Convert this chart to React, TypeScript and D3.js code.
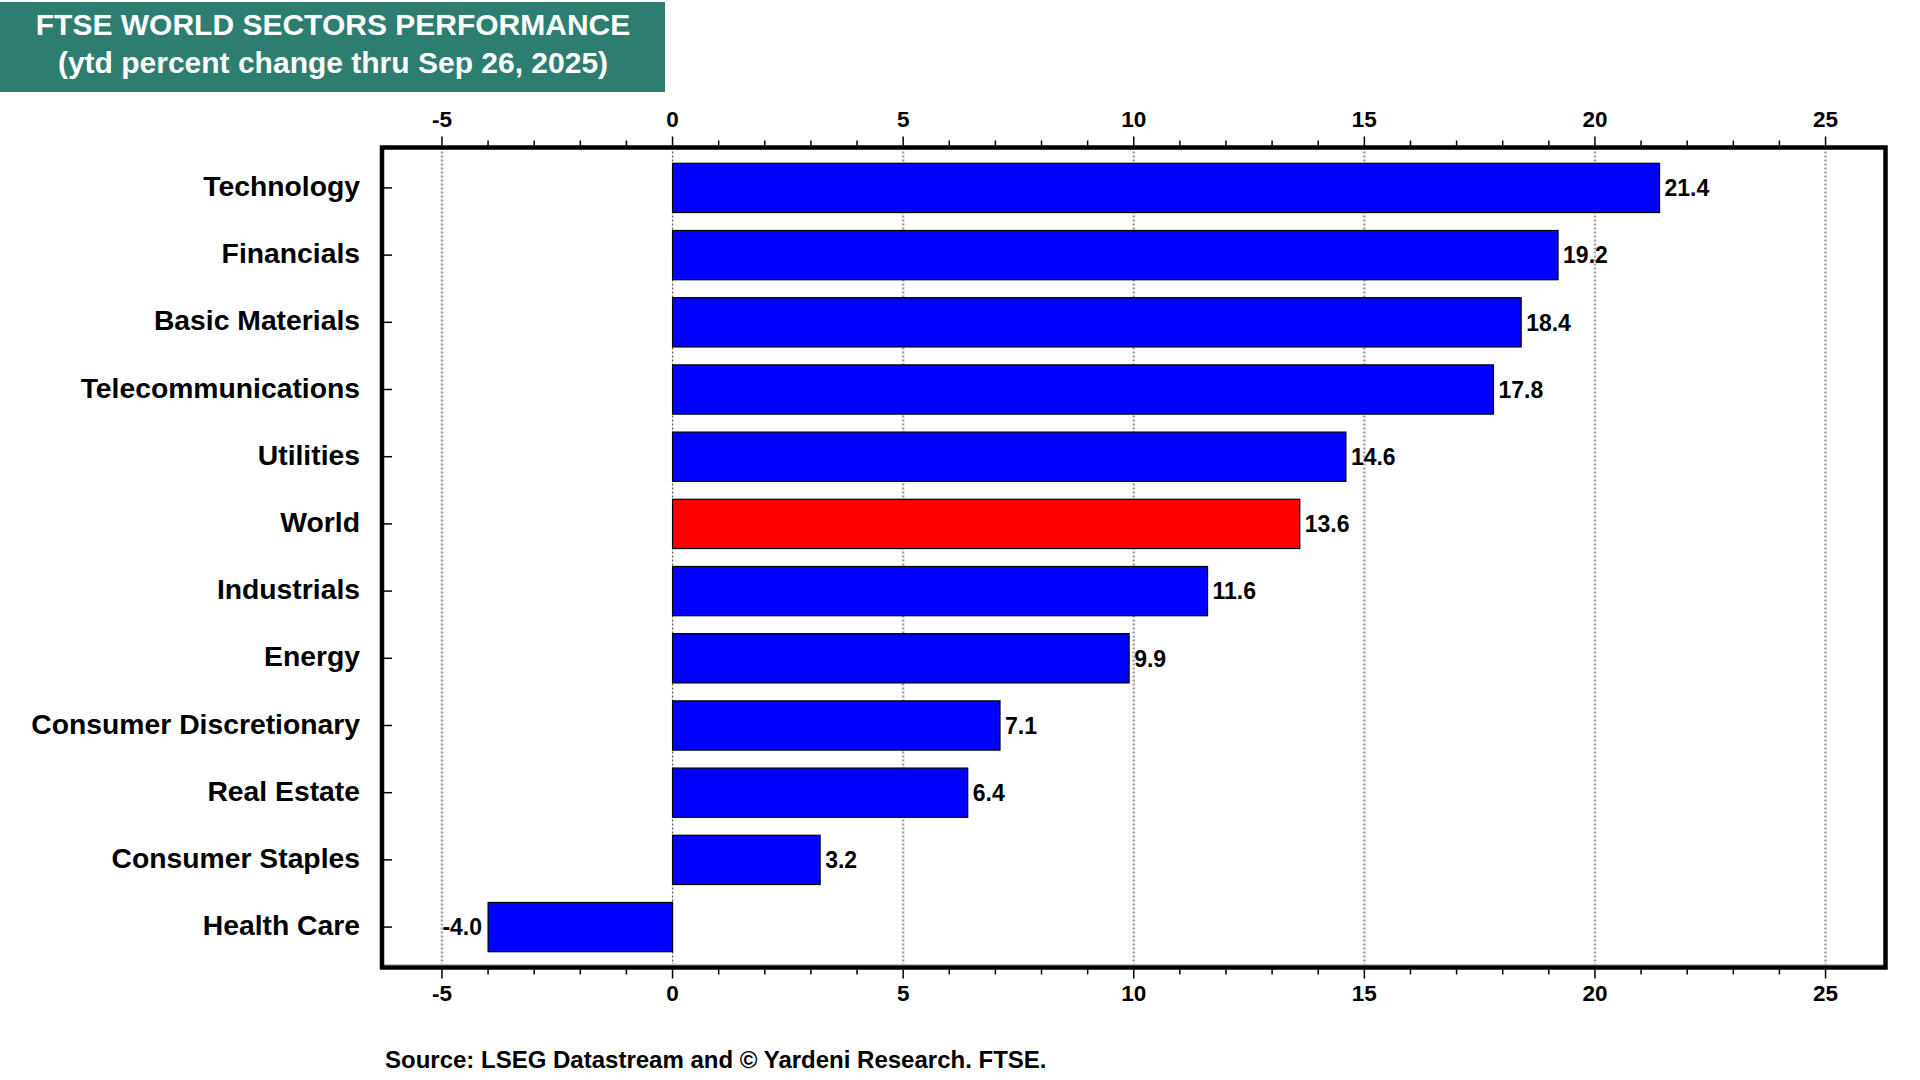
import React from "react";
import * as d3 from "d3";

const categories = [
  "Technology",
  "Financials",
  "Basic Materials",
  "Telecommunications",
  "Utilities",
  "World",
  "Industrials",
  "Energy",
  "Consumer Discretionary",
  "Real Estate",
  "Consumer Staples",
  "Health Care",
];
const values = [21.4, 19.2, 18.4, 17.8, 14.6, 13.6, 11.6, 9.9, 7.1, 6.4, 3.2, -4.0];
const highlightCategory = "World";
const majorTicks = [-5, 0, 5, 10, 15, 20, 25];
const minorTicks = d3.range(-5, 26, 1);
const xDomain = [-6.3, 26.3];
const titleLines = ["FTSE WORLD SECTORS PERFORMANCE", "(ytd percent change thru Sep 26, 2025)"];
const sourceText = "Source: LSEG Datastream and \u00A9 Yardeni Research. FTSE.";

const W = 1920;
const H = 1080;
const plot = { left: 382, right: 1885.5, top: 147.5, bottom: 967.5 };
const FONT = "Arial, 'Liberation Sans', Helvetica, sans-serif";

export default function App() {
  const x = d3.scaleLinear().domain(xDomain).range([plot.left, plot.right]);
  const y = d3
    .scaleBand<string>()
    .domain(categories)
    .range([plot.top, plot.bottom])
    .paddingInner(0.267)
    .paddingOuter(0.235);
  const bw = y.bandwidth();
  const data = categories.map((c, i) => ({ c, v: values[i] }));

  return (
    <div style={{ position: "absolute", left: 0, top: 0, width: W, height: H, background: "#fff" }}>
      <svg width={W} height={H} viewBox={`0 0 ${W} ${H}`} style={{ display: "block" }}>
        <rect x={0} y={0} width={W} height={H} fill="#fff" />
        {/* Title box */}
        <rect x={0} y={2} width={665} height={90} fill="#2e7d71" />
        {titleLines.map((t, i) => (
          <text
            key={t}
            x={333}
            y={35 + i * 38}
            textAnchor="middle"
            fill="#fff"
            fontFamily={FONT}
            fontWeight="bold"
            fontSize={30}
          >
            {t}
          </text>
        ))}

        {/* gridlines */}
        {majorTicks.map((t) => (
          <line
            key={"g" + t}
            x1={x(t)}
            x2={x(t)}
            y1={plot.top}
            y2={plot.bottom}
            stroke={t === 0 ? "#555" : "#a0a0a0"}
            strokeWidth={t === 0 ? 1.2 : 2.5}
            strokeDasharray="2 2"
          />
        ))}

        {/* bars */}
        {data.map((d) => {
          const x0 = x(Math.min(0, d.v));
          const x1 = x(Math.max(0, d.v));
          return (
            <rect
              key={d.c}
              x={x0}
              y={y(d.c)!}
              width={x1 - x0}
              height={bw}
              fill={d.c === highlightCategory ? "#ff0000" : "#0000ff"}
              stroke="#000"
              strokeWidth={1.2}
            />
          );
        })}

        {/* value labels */}
        {data.map((d) => (
          <text
            key={"v" + d.c}
            x={d.v >= 0 ? x(d.v) + 5 : x(d.v) - 6}
            y={y(d.c)! + bw / 2}
            dy="0.36em"
            textAnchor={d.v >= 0 ? "start" : "end"}
            fontFamily={FONT}
            fontWeight="bold"
            fontSize={23}
            fill="#000"
          >
            {d.v.toFixed(1)}
          </text>
        ))}

        {/* inner shadow line near bottom of frame */}
        <line x1={plot.left} x2={plot.right} y1={plot.bottom - 3} y2={plot.bottom - 3} stroke="#c0c0c0" strokeWidth={1} />

        {/* frame */}
        <rect
          x={plot.left}
          y={plot.top}
          width={plot.right - plot.left}
          height={plot.bottom - plot.top}
          fill="none"
          stroke="#000"
          strokeWidth={4.5}
        />

        {/* x ticks top & bottom */}
        {minorTicks.map((t) => {
          const major = t % 5 === 0;
          const len = major ? 9 : 5;
          return (
            <g key={"t" + t}>
              <line x1={x(t)} x2={x(t)} y1={plot.top - 2} y2={plot.top - 2 - len} stroke="#000" strokeWidth={1.5} />
              <line x1={x(t)} x2={x(t)} y1={plot.bottom + 2} y2={plot.bottom + 2 + len} stroke="#000" strokeWidth={1.5} />
            </g>
          );
        })}
        {majorTicks.map((t) => (
          <g key={"l" + t}>
            <text
              x={x(t)}
              y={127}
              textAnchor="middle"
              fontFamily={FONT}
              fontWeight="bold"
              fontSize={22.5}
              fill="#000"
            >
              {t}
            </text>
            <text
              x={x(t)}
              y={1001}
              textAnchor="middle"
              fontFamily={FONT}
              fontWeight="bold"
              fontSize={22.5}
              fill="#000"
            >
              {t}
            </text>
          </g>
        ))}

        {/* y ticks and labels */}
        {categories.map((c) => {
          const cy = y(c)! + bw / 2;
          return (
            <g key={"y" + c}>
              <line x1={plot.left + 2} x2={plot.left + 10} y1={cy} y2={cy} stroke="#000" strokeWidth={1.5} />
              <text
                x={360}
                y={cy - 2}
                dy="0.36em"
                textAnchor="end"
                fontFamily={FONT}
                fontWeight="bold"
                fontSize={28.3}
                fill="#000"
              >
                {c}
              </text>
            </g>
          );
        })}

        {/* source */}
        <text x={385} y={1067.5} fontFamily={FONT} fontWeight="bold" fontSize={24} fill="#000">
          {sourceText}
        </text>
      </svg>
    </div>
  );
}
